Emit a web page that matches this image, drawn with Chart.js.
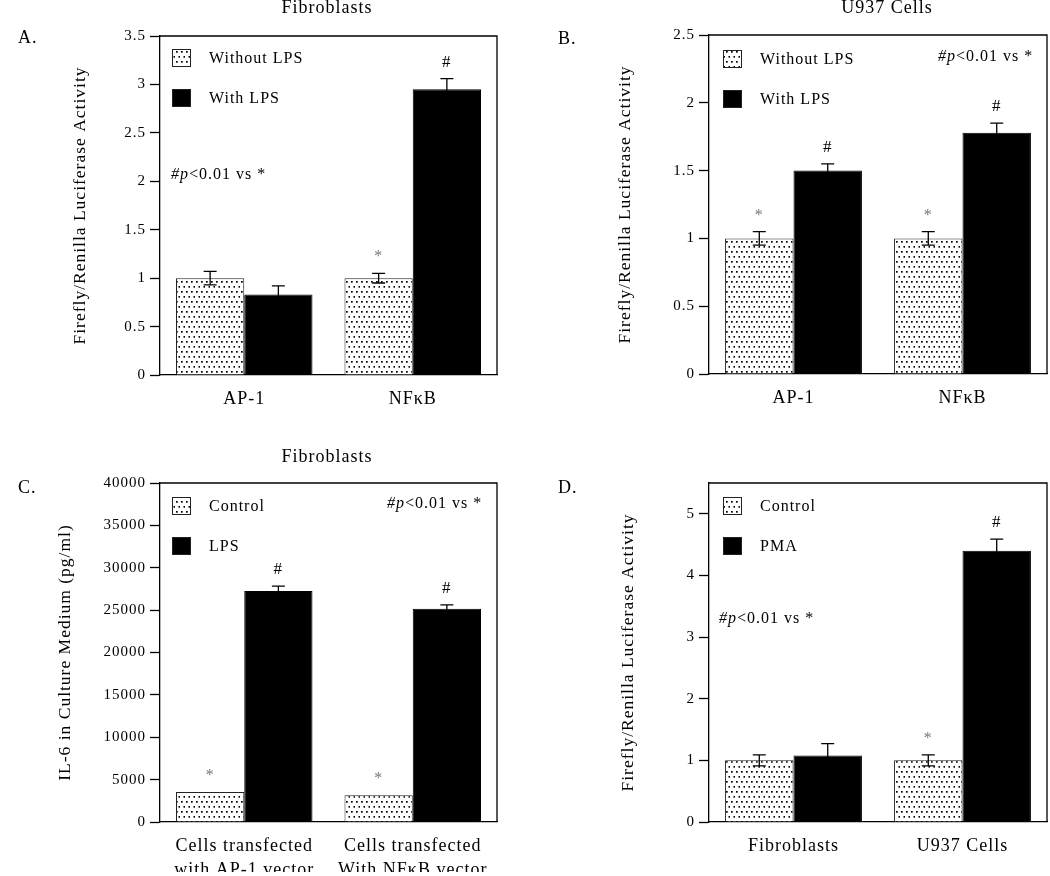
<!DOCTYPE html>
<html>
<head>
<meta charset="utf-8">
<script src="https://cdn.jsdelivr.net/npm/chart.js@4.4.0/dist/chart.umd.min.js"></script>
<style>
  body { margin: 0; background: #fff; }
  #wrap { position: relative; width: 1050px; height: 876px; overflow: hidden; background: #fff; }
  #wrap canvas { position: absolute; }
</style>
</head>
<body>
<div id="wrap">
  <canvas id="chartA" width="525" height="440" style="left:0;top:0"></canvas>
  <canvas id="chartB" width="525" height="440" style="left:525px;top:0"></canvas>
  <canvas id="chartC" width="525" height="436" style="left:0;top:440px"></canvas>
  <canvas id="chartD" width="525" height="436" style="left:525px;top:440px"></canvas>
</div>
<script>
// panel A - fibroblasts, luciferase
const catsA = ["AP-1", "NFκB"];
const ticksA = [0, 0.5, 1, 1.5, 2, 2.5, 3, 3.5];
const aWithout = [1.0, 1.0];
const aWith = [0.83, 2.95];
const aWithoutErr = [0.07, 0.05];
const aWithErr = [0.09, 0.11];
const aWithoutMarks = ["", "*"];
const aWithMarks = ["", "#"];

// panel B - U937 cells, luciferase
const catsB = ["AP-1", "NFκB"];
const ticksB = [0, 0.5, 1, 1.5, 2, 2.5];
const bWithout = [1.0, 1.0];
const bWith = [1.5, 1.78];
const bWithoutErr = [0.05, 0.05];
const bWithErr = [0.05, 0.07];
const bWithoutMarks = ["*", "*"];
const bWithMarks = ["#", "#"];

// panel C - IL-6
const catsC = [["Cells transfected", "with AP-1 vector"], ["Cells transfected", "With NFκB vector"]];
const ticksC = [0, 5000, 10000, 15000, 20000, 25000, 30000, 35000, 40000];
const cControl = [3550, 3150];
const cLps = [27250, 25150];
const cControlErr = [0, 0];
const cLpsErr = [590, 470];
const cControlMarks = ["*", "*"];
const cLpsMarks = ["#", "#"];

// panel D - PMA
const catsD = ["Fibroblasts", "U937 Cells"];
const ticksD = [0, 1, 2, 3, 4, 5];
const dControl = [1.0, 1.0];
const dPma = [1.08, 4.4];
const dControlErr = [0.09, 0.09];
const dPmaErr = [0.19, 0.19];
const dControlMarks = ["", "*"];
const dPmaMarks = ["", "#"];

const SERIF = "'Liberation Serif', 'Times New Roman', serif";
Chart.defaults.font.family = SERIF;
Chart.defaults.color = "#000";

function dotPattern() {
  const c = document.createElement("canvas");
  c.width = 5;
  c.height = 10;
  const g = c.getContext("2d");
  g.fillStyle = "#fff";
  g.fillRect(0, 0, 5, 10);
  g.fillStyle = "#000";
  g.fillRect(1, 1, 1.7, 1.7);
  g.fillRect(3.5, 6, 1.7, 1.7);
  return g.createPattern(c, "repeat");
}
const dots = dotPattern();

// error bars, significance marks, frame, titles, legend, note
const panelPlugin = {
  id: "panel",
  beforeDraw(chart) {
    chart.ctx.letterSpacing = "1px";
  },
  afterDatasetsDraw(chart) {
    const ctx = chart.ctx;
    const y = chart.scales.y;
    chart.data.datasets.forEach((ds, di) => {
      const meta = chart.getDatasetMeta(di);
      meta.data.forEach((bar, i) => {
        const v = ds.data[i];
        const e = ds.errors[i];
        let top = y.getPixelForValue(v);
        if (e > 0) {
          const hi = y.getPixelForValue(v + e);
          const lo = y.getPixelForValue(v - e);
          ctx.save();
          ctx.strokeStyle = "#000";
          ctx.lineWidth = 1.3;
          ctx.beginPath();
          ctx.moveTo(bar.x, lo);
          ctx.lineTo(bar.x, hi);
          ctx.moveTo(bar.x - 6.5, hi);
          ctx.lineTo(bar.x + 6.5, hi);
          ctx.moveTo(bar.x - 6.5, lo);
          ctx.lineTo(bar.x + 6.5, lo);
          ctx.stroke();
          ctx.restore();
          top = hi;
        }
        const m = ds.marks[i];
        if (m) {
          ctx.save();
          ctx.textAlign = "center";
          ctx.textBaseline = "alphabetic";
          ctx.fillStyle = m === "*" ? "#777" : "#000";
          ctx.font = (m === "*" ? "16px " : "17px ") + SERIF;
          ctx.fillText(m, bar.x, top - 12);
          ctx.restore();
        }
      });
    });
  },
  afterDraw(chart, args, opts) {
    const ctx = chart.ctx;
    const a = chart.chartArea;
    ctx.save();
    // top and right of the frame
    ctx.strokeStyle = "#000";
    ctx.lineWidth = 1.3;
    ctx.beginPath();
    ctx.moveTo(a.left, a.top);
    ctx.lineTo(a.right, a.top);
    ctx.lineTo(a.right, a.bottom);
    ctx.stroke();

    ctx.fillStyle = "#000";
    ctx.textBaseline = "alphabetic";
    ctx.font = "18px " + SERIF;
    ctx.textAlign = "center";
    ctx.fillText(opts.title, opts.titleX, opts.titleY);
    ctx.textAlign = "left";
    ctx.fillText(opts.letter, opts.letterX, opts.letterY);

    // legend
    ctx.font = "16px " + SERIF;
    chart.data.datasets.forEach((ds, i) => {
      const bx = opts.legendX;
      const by = opts.legendY + i * 40;
      ctx.fillStyle = ds.backgroundColor;
      ctx.fillRect(bx, by, 19, 18);
      ctx.strokeStyle = "#222";
      ctx.lineWidth = 1;
      ctx.strokeRect(bx + 0.5, by + 0.5, 18, 17);
      ctx.fillStyle = "#000";
      ctx.textBaseline = "middle";
      ctx.fillText(ds.label, bx + 37, by + 10);
    });

    // "#p<0.01 vs *"
    ctx.textBaseline = "alphabetic";
    let x = opts.noteX;
    [["#p", "italic "], ["<0.01 vs *", ""]].forEach(([t, st]) => {
      ctx.font = st + "16px " + SERIF;
      ctx.fillText(t, x, opts.noteY);
      x += ctx.measureText(t).width;
    });
    ctx.restore();
  }
};

function makeChart(id, p) {
  return new Chart(document.getElementById(id), {
    type: "bar",
    data: {
      labels: p.labels,
      datasets: [
        { label: p.names[0], data: p.values[0], errors: p.errors[0], marks: p.marks[0],
          backgroundColor: dots, borderColor: "#222", borderWidth: 1 },
        { label: p.names[1], data: p.values[1], errors: p.errors[1], marks: p.marks[1],
          backgroundColor: "#000", borderColor: "#000", borderWidth: 1 }
      ]
    },
    options: {
      responsive: false,
      animation: false,
      events: [],
      layout: { padding: p.padding },
      datasets: { bar: { categoryPercentage: 0.81, barPercentage: 1 } },
      scales: {
        x: {
          border: { color: "#000", width: 1.3 },
          grid: { display: false, drawTicks: false },
          ticks: { color: "#000", padding: 12, maxRotation: 0, autoSkip: false,
                   font: { size: 18, lineHeight: 1.333 } },
          afterFit: (s) => { s.height = 50; s.paddingLeft = 0; s.paddingRight = 0; }
        },
        y: {
          min: 0,
          max: p.max,
          border: { color: "#000", width: 1.3 },
          grid: { drawOnChartArea: false, tickLength: 10, tickColor: "#000", tickWidth: 1.3 },
          ticks: { color: "#000", padding: 4, font: { size: 15 }, callback: (v) => String(v) },
          title: { display: true, text: p.yTitle, color: "#000", font: { size: 17.5 },
                   padding: { top: p.yTitlePad, bottom: 0 } },
          afterBuildTicks: (s) => { s.ticks = p.ticks.map((v) => ({ value: v })); },
          afterFit: (s) => { s.width = p.yWidth; s.paddingTop = 0; s.paddingBottom = 0; }
        }
      },
      plugins: {
        legend: { display: false },
        tooltip: { enabled: false },
        panel: p.panel
      }
    },
    plugins: [panelPlugin]
  });
}

const lucTitle = "Firefly/Renilla Luciferase Activity";

makeChart("chartA", {
  labels: catsA, names: ["Without LPS", "With LPS"],
  values: [aWithout, aWith], errors: [aWithoutErr, aWithErr], marks: [aWithoutMarks, aWithMarks],
  max: 3.5, ticks: ticksA, yTitle: lucTitle, yTitlePad: 10, yWidth: 100,
  padding: { left: 60, top: 36, right: 28, bottom: 15 },
  panel: { title: "Fibroblasts", titleX: 327, titleY: 13, letter: "A.", letterX: 18, letterY: 43,
           legendX: 172, legendY: 49, noteX: 171, noteY: 179 }
});

makeChart("chartB", {
  labels: catsB, names: ["Without LPS", "With LPS"],
  values: [bWithout, bWith], errors: [bWithoutErr, bWithErr], marks: [bWithoutMarks, bWithMarks],
  max: 2.5, ticks: ticksB, yTitle: lucTitle, yTitlePad: 6, yWidth: 100,
  padding: { left: 84, top: 35, right: 3, bottom: 16 },
  panel: { title: "U937 Cells", titleX: 362, titleY: 13, letter: "B.", letterX: 33, letterY: 44,
           legendX: 198, legendY: 50, noteX: 413, noteY: 61 }
});

makeChart("chartC", {
  labels: catsC, names: ["Control", "LPS"],
  values: [cControl, cLps], errors: [cControlErr, cLpsErr], marks: [cControlMarks, cLpsMarks],
  max: 40000, ticks: ticksC, yTitle: "IL-6 in Culture Medium (pg/ml)", yTitlePad: 5, yWidth: 110,
  padding: { left: 50, top: 43, right: 28, bottom: 4 },
  panel: { title: "Fibroblasts", titleX: 327, titleY: 22, letter: "C.", letterX: 18, letterY: 53,
           legendX: 172, legendY: 57, noteX: 387, noteY: 68 }
});

makeChart("chartD", {
  labels: catsD, names: ["Control", "PMA"],
  values: [dControl, dPma], errors: [dControlErr, dPmaErr], marks: [dControlMarks, dPmaMarks],
  max: 5.5, ticks: ticksD, yTitle: lucTitle, yTitlePad: 9, yWidth: 100,
  padding: { left: 84, top: 43, right: 3, bottom: 4 },
  panel: { title: "", titleX: 0, titleY: 0, letter: "D.", letterX: 33, letterY: 53,
           legendX: 198, legendY: 57, noteX: 194, noteY: 183 }
});
</script>
</body>
</html>
